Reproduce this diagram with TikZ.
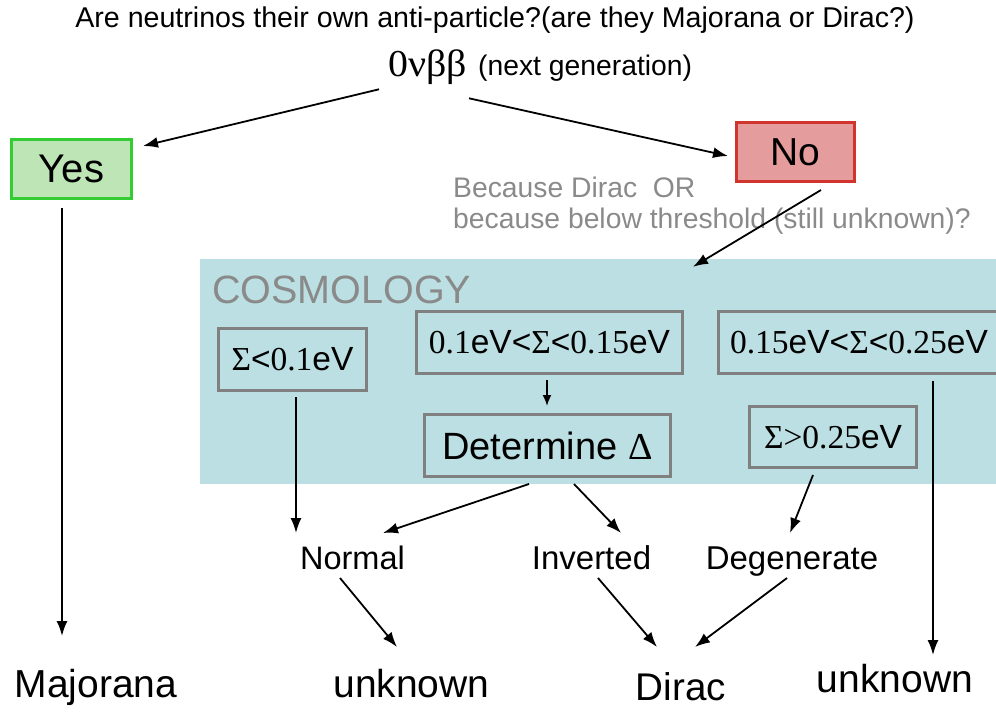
\documentclass[tikz,border=0pt]{standalone}
\usepackage{fontspec}
\setmainfont{Liberation Sans}
\newfontfamily\tms{Liberation Serif}
\usetikzlibrary{arrows.meta}
\definecolor{cosmobg}{HTML}{BBDFE2}
\definecolor{yesfill}{HTML}{BDE5B5}
\definecolor{yesdraw}{HTML}{33CC33}
\definecolor{nofill}{HTML}{E59C9C}
\definecolor{nodraw}{HTML}{D0342C}
\definecolor{txtgray}{HTML}{8A8A8A}
\definecolor{boxgray}{HTML}{808080}
\newcommand\fsz[1]{\fontsize{#1}{#1}\selectfont}
\tikzset{
  arr/.style={line width=1.8pt, -{Latex[length=15pt,width=11pt]}},
  lbl/.style={inner sep=0pt, anchor=base},
  cbox/.style={draw=boxgray, line width=3pt, fill=cosmobg, inner sep=0pt},
}
\begin{document}
\begin{tikzpicture}[x=1pt,y=-1pt]
\useasboundingbox (0,0) rectangle (996,713);
% cosmology background
\node[fill=cosmobg, inner sep=0pt, minimum width=796pt, minimum height=225pt] (cosmo) at (598,371.5) {};
\node[lbl, anchor=base west, text=txtgray, font=\fsz{39.5}] (cosmolbl) at (212,303) {COSMOLOGY};

% title
\node[lbl, font=\fsz{28.6}] (title) at (495,27) {Are neutrinos their own anti-particle?(are they Majorana or Dirac?)};
\node[lbl, anchor=base east, font=\fsz{38}] (nu) at (467,76) {\scalebox{1.05}[1]{\tms 0νββ}};
\node[lbl, anchor=base west, font=\fsz{28.3}] (nextgen) at (478,75) {(next generation)};

% yes / no
\node[draw=yesdraw, fill=yesfill, line width=3pt, minimum width=120pt, minimum height=59pt, inner sep=0pt, font=\fsz{40}] (yes) at (71.5,169) {Yes};
\node[draw=nodraw, fill=nofill, line width=3pt, minimum width=118pt, minimum height=59pt, inner sep=0pt, font=\fsz{39}] (no) at (795.5,152) {No};

\node[lbl, anchor=base west, text=txtgray, font=\fsz{28.3}] (because1) at (453,197) {Because Dirac\ \ OR};
\node[lbl, anchor=base west, text=txtgray, font=\fsz{28.3}] (because2) at (453,228) {because below threshold (still unknown)?};

% cosmology boxes
\node[cbox, minimum width=148pt, minimum height=62pt, font=\fsz{33.5}] (s1) at (292.5,359.5) {{\tms Σ}<{\tms 0.1}eV};
\node[cbox, minimum width=266pt, minimum height=62pt, font=\fsz{33.5}] (s2) at (549.5,342.5) {{\tms 0.1}eV<{\tms Σ}<{\tms 0.15}eV};
\node[cbox, minimum width=281pt, minimum height=62pt, font=\fsz{33.5}] (s3) at (859,342) {{\tms 0.15}eV<{\tms Σ}<{\tms 0.25}eV};
\node[cbox, minimum width=246pt, minimum height=62pt, font=\fsz{38}] (det) at (547.5,445.5) {Determine {\tms Δ}};
\node[cbox, minimum width=167pt, minimum height=61pt, font=\fsz{33.5}] (s4) at (833,437) {{\tms Σ>0.25}eV};

% hierarchy labels
\node[lbl, font=\fsz{32.5}] (normal) at (352.5,569) {Normal};
\node[lbl, font=\fsz{33}] (inverted) at (591.5,569) {Inverted};
\node[lbl, font=\fsz{33}] (degen) at (792,569) {Degenerate};

% outcomes
\node[lbl, font=\fsz{39}] (majorana) at (96,697) {Majorana};
\node[lbl, font=\fsz{39}] (unknownA) at (411.5,697) {unknown};
\node[lbl, font=\fsz{38.6}] (dirac) at (681,700) {Dirac};
\node[lbl, font=\fsz{39}] (unknownB) at (895,692) {unknown};

% connectors
\draw[arr] ([shift={(-9,5)}]nu.south west) -- ([shift={(10,8)}]yes.north east);
\draw[arr] ([shift={(2,14)}]nu.south east) -- ([shift={(-7,4)}]no.west);
\draw[arr] ([shift={(25.5,7)}]no.south) -- ([shift={(95,8)}]cosmo.north);
\draw[arr] ([shift={(-9.5,8)}]yes.south) -- ([shift={(-34,-61)}]majorana.base);
\draw[arr] ([shift={(3.5,5)}]s1.south) -- ([shift={(-56.5,-36)}]normal.base);
\draw[line width=1.8pt, -{Latex[length=11pt,width=9pt]}] ([shift={(-2.5,5)}]s2.south) -- ([shift={(-0.5,-7)}]det.north);
\draw[arr] ([shift={(-18.5,6)}]det.south) -- ([shift={(30.5,-36)}]normal.base);
\draw[arr] ([shift={(26.5,6)}]det.south) -- ([shift={(29.5,-36)}]inverted.base);
\draw[arr] ([shift={(-20,6)}]s4.south) -- ([shift={(-2,-36)}]degen.base);
\draw[arr] ([shift={(74,6)}]s3.south) -- ([shift={(38,-37)}]unknownB.base);
\draw[arr] ([shift={(-12.5,9)}]normal.base) -- ([shift={(-14.5,-50)}]unknownA.base);
\draw[arr] ([shift={(6.5,9)}]inverted.base) -- ([shift={(-24,-53)}]dirac.base);
\draw[arr] ([shift={(-5,9)}]degen.base) -- ([shift={(14,-53)}]dirac.base);
\end{tikzpicture}
\end{document}
